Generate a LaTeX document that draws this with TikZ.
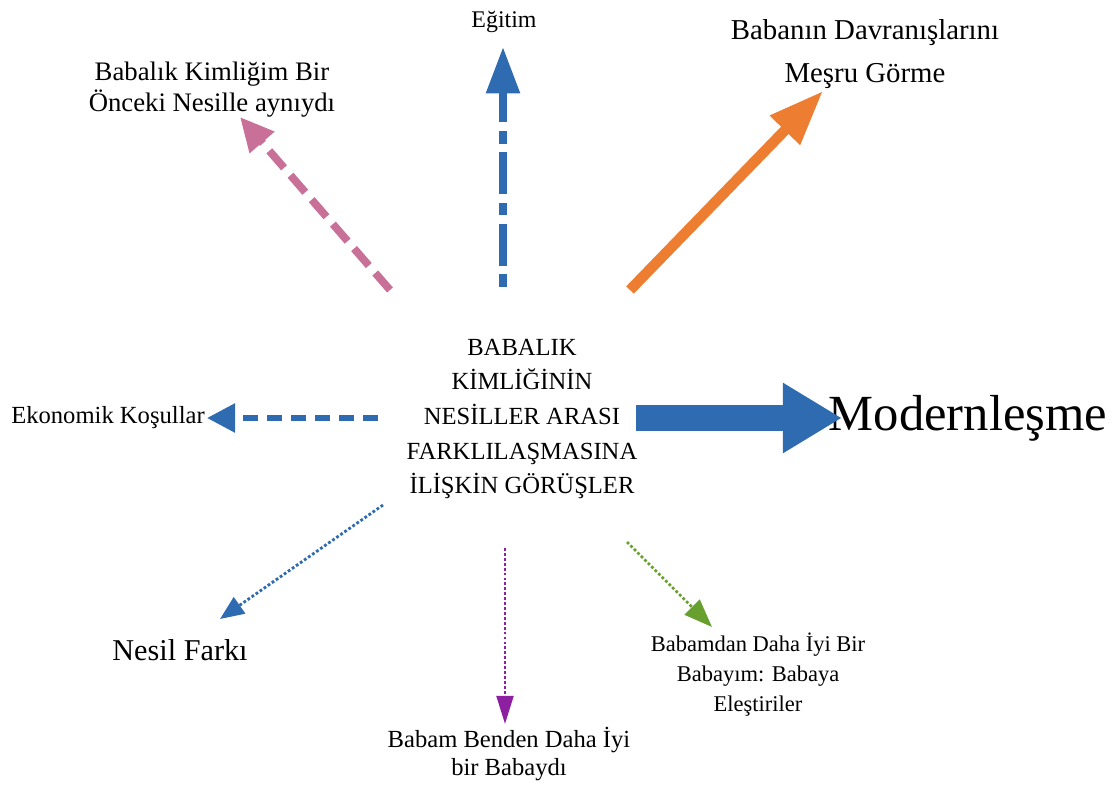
\documentclass[tikz,border=0pt]{standalone}
\usepackage{fontspec}
\setmainfont{Liberation Serif}
\usepackage{xcolor}
\usetikzlibrary{arrows.meta,positioning}
\definecolor{koyumavi}{RGB}{46,107,176}
\definecolor{turuncu}{RGB}{237,125,49}
\definecolor{pembe}{RGB}{201,112,152}
\definecolor{mor}{RGB}{140,32,160}
\definecolor{yesil}{RGB}{104,160,48}

\begin{document}
\begin{tikzpicture}[x=0.025cm,y=-0.025cm,
  etiket/.style={align=center,inner sep=0pt}]
\useasboundingbox (0,0) rectangle (1119,794);
% metinler
\node[etiket,font=\fontsize{17.5}{24.6}\selectfont] (merkez) at (522,419)
  {BABALIK\\KİMLİĞİNİN\\NESİLLER ARASI\\FARKLILAŞMASINA\\İLİŞKİN GÖRÜŞLER};
\node[etiket,font=\fontsize{17}{20}\selectfont] (egitim) at (504,22) {Eğitim};
\node[etiket,font=\fontsize{19}{22}\selectfont] (onceki) at (212,90)
  {Babalık Kimliğim Bir\\Önceki Nesille aynıydı};
\node[etiket,font=\fontsize{20.5}{30}\selectfont] (mesru) at (865,54)
  {Babanın Davranışlarını\\Meşru Görme};
\node[etiket,font=\fontsize{36}{40}\selectfont] (modern) at (968,418) {Modernleşme};
\node[etiket,font=\fontsize{17.5}{20}\selectfont] (ekonomi) at (108,418) {Ekonomik Koşullar};
\node[etiket,font=\fontsize{21.5}{26}\selectfont] (nesil) at (180,650) {Nesil Farkı};
\node[etiket,font=\fontsize{17.5}{20}\selectfont] (babam) at (509,754)
  {Babam Benden Daha İyi\\bir Babaydı};
\node[etiket,font=\fontsize{16}{21.3}\selectfont] (elestiri) at (758,675)
  {Babamdan Daha İyi Bir\\Babayım: Babaya\\Eleştiriler};
% ok uclari
\coordinate (pk1) at (390,290);   \coordinate (pk2) at (240,117);
\coordinate (eg1) at (503,287);   \coordinate (eg2) at (503,47);
\coordinate (tr1) at (630,290);   \coordinate (tr2) at (823,91);
\coordinate (md1) at (636,418);   \coordinate (md2) at (842,418);
\coordinate (ek1) at (378,418);   \coordinate (ek2) at (207,418);
\coordinate (nf1) at (383,505);   \coordinate (nf2) at (220,619);
\coordinate (bb1) at (505,548);   \coordinate (bb2) at (505,724);
\coordinate (el1) at (627,542);   \coordinate (el2) at (712,627);
% oklar
\draw[pembe,line width=5.5pt,dash pattern=on 16pt off 7pt,
  -{Triangle[length=24pt,width=22pt]}] (pk1) -- (pk2);
\draw[koyumavi,line width=5.5pt,dash pattern=on 9pt off 6pt on 30pt off 6pt,
  -{Triangle[length=33pt,width=23pt]}] (eg1) -- (eg2);
\draw[turuncu,line width=7.5pt,-{Triangle[length=39pt,width=28pt]}] (tr1) -- (tr2);
\draw[koyumavi,line width=18.5pt,-{Triangle[length=42pt,width=47pt]}] (md1) -- (md2);
\draw[koyumavi,line width=4pt,dash pattern=on 11pt off 6pt,
  -{Triangle[length=20pt,width=20pt]}] (ek1) -- (ek2);
\draw[koyumavi,line width=2pt,dash pattern=on 2pt off 1.5pt,
  -{Triangle[length=17pt,width=14pt]}] (nf1) -- (nf2);
\draw[mor,line width=1.8pt,dash pattern=on 2pt off 1.5pt,
  -{Triangle[length=20pt,width=12pt]}] (bb1) -- (bb2);
\draw[yesil,line width=1.8pt,dash pattern=on 2pt off 1.5pt,
  -{Triangle[length=20pt,width=15pt]}] (el1) -- (el2);
\end{tikzpicture}
\end{document}
